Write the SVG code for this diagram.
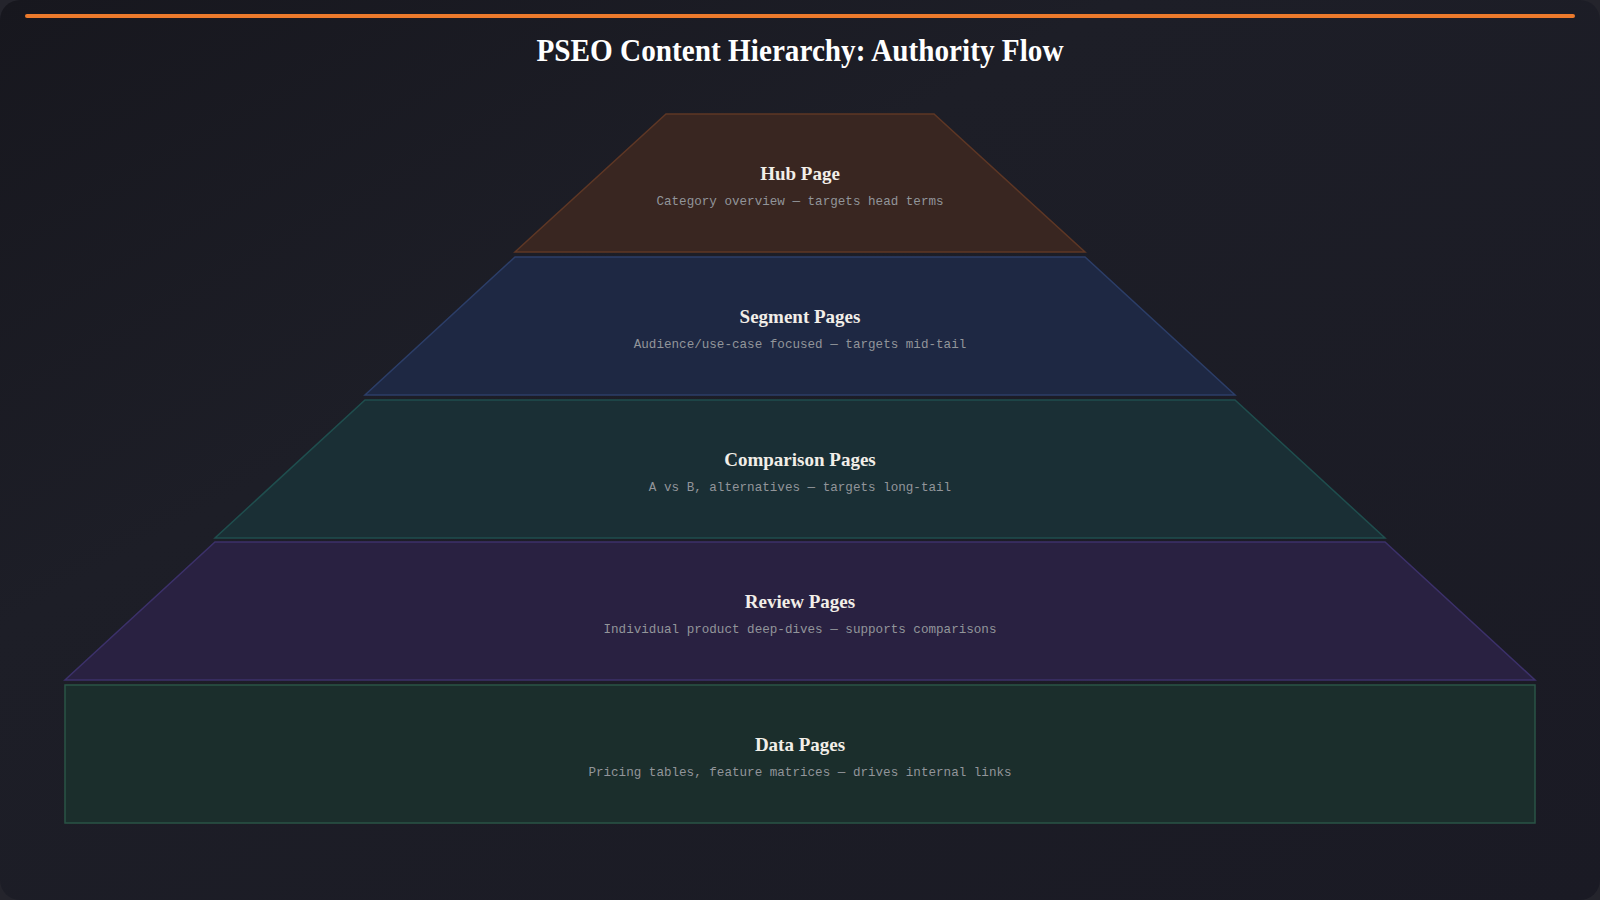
<svg xmlns="http://www.w3.org/2000/svg" width="1600" height="900" viewBox="0 0 1600 900">
  <defs>
    <linearGradient id="bg" x1="0" y1="0" x2="1" y2="1">
      <stop offset="0" stop-color="#17171e"/>
      <stop offset="0.35" stop-color="#1d1e27"/>
      <stop offset="1" stop-color="#1a1a24"/>
    </linearGradient>
    <filter id="glow" x="-5%" y="-300%" width="110%" height="700%">
      <feGaussianBlur stdDeviation="2"/>
    </filter>
  </defs>
  <style>
    .title { font-family: "Liberation Serif", "Times New Roman", serif; font-weight: bold; fill: #ffffff; }
    .lbl { font-family: "Liberation Serif", "Times New Roman", serif; font-weight: bold; font-size: 19px; fill: #f2eee8; text-anchor: middle; }
    .sub { font-family: "Liberation Mono", "Courier New", monospace; font-size: 12.6px; fill: #92959a; text-anchor: middle; }
    .layer { stroke-width: 1.5; }
  </style>
  <rect width="1600" height="900" fill="#24242c"/>
  <rect width="1600" height="900" rx="20" fill="url(#bg)"/>
  <line x1="27" y1="16" x2="1573" y2="16" stroke="#3a1a08" stroke-width="8" stroke-linecap="round" filter="url(#glow)"/>
  <line x1="27" y1="16" x2="1573" y2="16" stroke="#ec7a2c" stroke-width="4" stroke-linecap="round"/>
  <text class="title" x="800" y="61" font-size="32" text-anchor="middle" textLength="527" lengthAdjust="spacingAndGlyphs">PSEO Content Hierarchy: Authority Flow</text>

  <g id="connectors"></g>

  <g id="hub">
    <polygon class="layer" points="666,114 934,114 1085,252 515,252" fill="#392621" stroke="#5e3725"/>
    <text class="lbl" x="800" y="180">Hub Page</text>
    <text class="sub" x="800" y="205">Category overview — targets head terms</text>
  </g>
  <g id="segment">
    <polygon class="layer" points="515,257 1085,257 1235,395 365,395" fill="#1e2843" stroke="#2c3e68"/>
    <text class="lbl" x="800" y="323">Segment Pages</text>
    <text class="sub" x="800" y="348">Audience/use-case focused — targets mid-tail</text>
  </g>
  <g id="comparison">
    <polygon class="layer" points="365,400 1235,400 1385,538 215,538" fill="#1a2f35" stroke="#1f4e4e"/>
    <text class="lbl" x="800" y="466">Comparison Pages</text>
    <text class="sub" x="800" y="491">A vs B, alternatives — targets long-tail</text>
  </g>
  <g id="review">
    <polygon class="layer" points="215,542 1385,542 1535,680 65,680" fill="#292141" stroke="#3c316a"/>
    <text class="lbl" x="800" y="608">Review Pages</text>
    <text class="sub" x="800" y="633">Individual product deep-dives — supports comparisons</text>
  </g>
  <g id="data">
    <rect class="layer" x="65" y="685" width="1470" height="138" fill="#1b2e2c" stroke="#2a5446"/>
    <text class="lbl" x="800" y="751">Data Pages</text>
    <text class="sub" x="800" y="776">Pricing tables, feature matrices — drives internal links</text>
  </g>
</svg>
